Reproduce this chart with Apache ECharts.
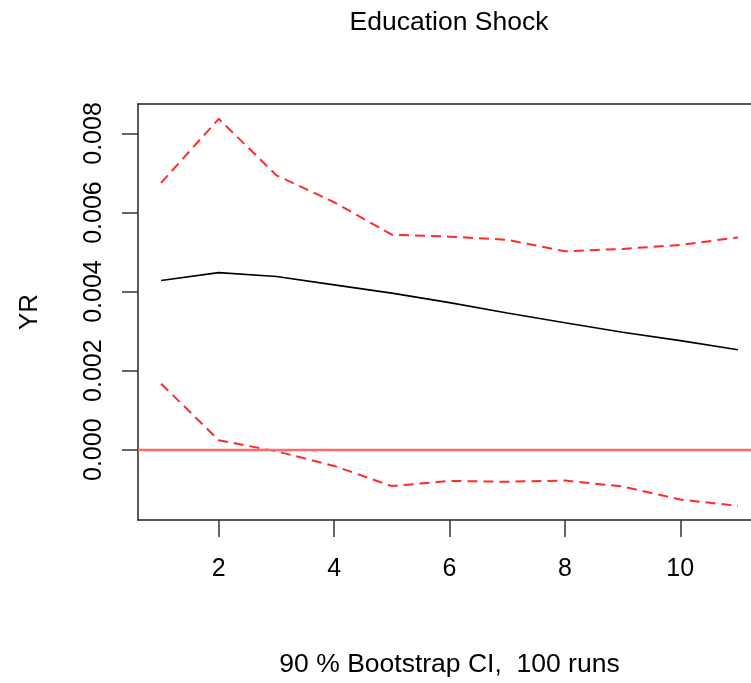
<!DOCTYPE html>
<html>
<head>
<meta charset="utf-8">
<script src="https://cdn.jsdelivr.net/npm/echarts@6/dist/echarts.min.js"></script>
<style>
  html, body { margin: 0; padding: 0; background: #fff; }
  #chart { width: 751px; height: 683px; }
</style>
</head>
<body>
<div id="chart"></div>
<script>
// horizon steps and impulse response with bootstrap bands
const steps = [1, 2, 3, 4, 5, 6, 7, 8, 9, 10, 11]
const irf = [0.00428, 0.00448, 0.00438, 0.00417, 0.00396, 0.00372, 0.00346, 0.00321, 0.00297, 0.00276, 0.00253]
const upper = [0.00675, 0.00837, 0.00694, 0.00626, 0.00544, 0.00539, 0.00531, 0.00502, 0.00508, 0.00518, 0.00537]
const lower = [0.00167, 0.00024, -0.00004, -0.00041, -0.00092, -0.00079, -0.00081, -0.00078, -0.00093, -0.00126, -0.00142]
const xTicks = [2, 4, 6, 8, 10]
const yTicks = [0, 0.002, 0.004, 0.006, 0.008]

const FONT = "'Liberation Sans', Arial, Helvetica, sans-serif"
const BOX = { color: '#222', width: 1.5 }

function pairs(values) {
  return steps.map((s, i) => [s, values[i]])
}

let chart = echarts.init(document.getElementById('chart'))

// the R plot box runs past the right edge of the picture, so the grid
// stops at the canvas edge and the x range is cut to match (1 unit ~ 57.7px)
chart.setOption({
  backgroundColor: '#fff',
  animation: false,
  title: {
    text: 'Education Shock',
    left: 444,
    top: 4,
    textAlign: 'center',
    textStyle: {
      fontFamily: FONT,
      fontSize: 26.5,
      fontWeight: 'normal',
      color: '#000'
    }
  },
  grid: {
    left: 138,
    top: 104,
    right: 0,
    height: 417
  },
  xAxis: [
    {
      type: 'value',
      min: 0.6,
      max: 11.226,
      name: '90 % Bootstrap CI,  100 runs',
      nameLocation: 'middle',
      nameGap: 131,
      nameTextStyle: { fontFamily: FONT, fontSize: 26.5, color: '#000', padding: [0, 0, 0, 10] },
      axisLine: { show: true, onZero: false, lineStyle: BOX },
      splitLine: { show: false },
      axisTick: {
        customValues: xTicks,
        length: 17,
        lineStyle: { color: '#333', width: 1.5 }
      },
      axisLabel: {
        customValues: xTicks,
        margin: 37,
        fontFamily: FONT,
        fontSize: 25,
        color: '#000'
      }
    },
    {
      type: 'value',
      position: 'top',
      min: 0.6,
      max: 11.226,
      axisLine: { show: true, onZero: false, lineStyle: BOX },
      axisTick: { show: false },
      axisLabel: { show: false },
      splitLine: { show: false }
    }
  ],
  yAxis: {
    type: 'value',
    min: -0.001778,
    max: 0.008745,
    name: 'YR',
    nameLocation: 'middle',
    nameGap: 95,
    nameTextStyle: { fontFamily: FONT, fontSize: 26, color: '#000' },
    axisLine: { show: true, onZero: false, lineStyle: BOX },
    splitLine: { show: false },
    axisTick: {
      customValues: yTicks,
      length: 16,
      lineStyle: { color: '#333', width: 1.5 }
    },
    axisLabel: {
      customValues: yTicks,
      rotate: 90,
      margin: 31,
      fontFamily: FONT,
      fontSize: 25,
      color: '#000',
      formatter: v => v.toFixed(3)
    }
  },
  series: [
    {
      name: 'YR',
      type: 'line',
      data: pairs(irf),
      showSymbol: false,
      lineStyle: { color: '#000', width: 1.6 },
      markLine: {
        silent: true,
        symbol: 'none',
        label: { show: false },
        lineStyle: { color: '#ff6a6a', width: 2.4, type: 'solid' },
        data: [{ yAxis: 0 }]
      }
    },
    {
      name: 'Upper',
      type: 'line',
      data: pairs(upper),
      showSymbol: false,
      lineStyle: { color: '#ff2a2a', width: 2, type: [10, 6] }
    },
    {
      name: 'Lower',
      type: 'line',
      data: pairs(lower),
      showSymbol: false,
      lineStyle: { color: '#ff2a2a', width: 2, type: [10, 6] }
    }
  ]
})
</script>
</body>
</html>
